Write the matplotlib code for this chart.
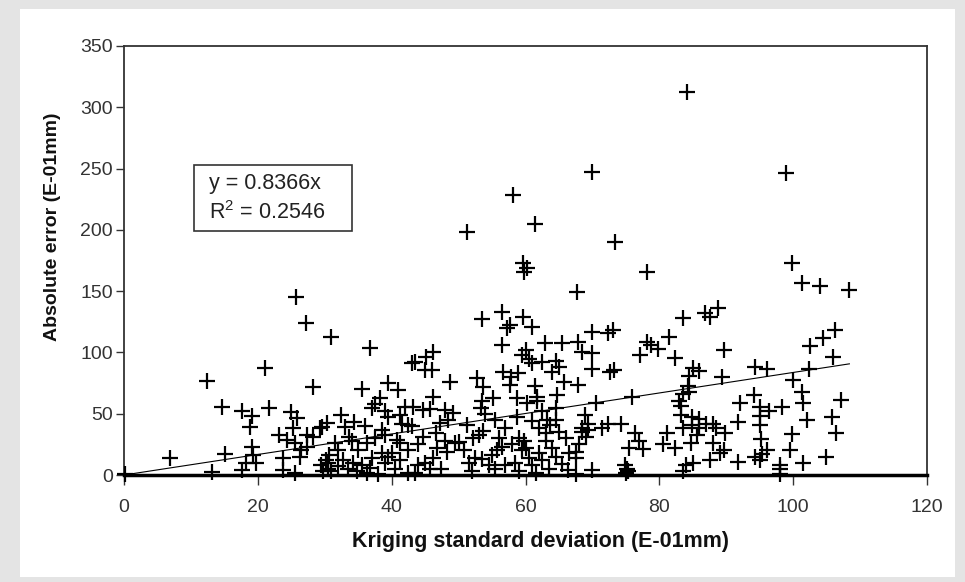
import matplotlib
matplotlib.use("Agg")
import matplotlib.pyplot as plt
from matplotlib.patches import Rectangle

plt.rcParams['font.family'] = ['Liberation Sans', 'DejaVu Sans']

# Kriging standard deviation (x) and absolute error (y)
pts_low = [(0.1,0.8),(6.8,14),(12.4,76.7),(13.1,2.7),(14.6,55.7),(15.1,16.9),(17.7,52.5),(17.7,4),(18.3,9.5),
           (18.8,39.4),(19.1,23.1),(19.2,48.4),(19.3,16.3),(19.8,10),(21,87),(21.7,54.4),(23.1,32.6),(23.8,13.6),
           (23.8,4),(24.3,28.6),(24.9,51.7),(25.3,38.1),(25.6,25.9),(25.6,1.4),(25.7,145.5),(25.8,46.2),(26.3,15),
           (26.5,20),(27.2,124.3),(27.3,32.6),(27.3,23.1),(28.3,71.5),(28.3,31.3),(29.3,38.1),(29.5,8),(29.8,3),
           (30.2,12),(30.5,5),(30.3,42.2),(31,112.8)]
pts_mid1 = [(29.6,39),(30.7,16),(31.5,25.9),(32,20),(32.5,49),(33,39.4),(33.6,31),(34.3,43.5),(35.5,69.9),
            (36.3,25.9),(36.8,103.4),(37,55),(37.5,58),(38.3,62.6),(38.5,36.7),(38.5,18),(39,52),(39.5,47),
            (39.5,74.8),(41,69.3),(41.3,49),(41.5,42),(42.5,40.6),(41.3,25.9),(40.8,28.6),(42,55.7),(43,91),
            (43.5,92),(43.2,55.7),(44.7,53),(44.7,31.3),(45,85.7),(45.2,96.5),(45.7,54),(46,85.7),(46.2,100.6),
            (46.2,63.9),(46.6,34),(47.2,42.2),(48,53),(48.4,45),(48.2,18.8),(48,28),(48.7,76),(49.2,50.3),
            (49.5,25.9),(50,27),(50.8,20),(51.2,40.8),(51.5,9.5),(51.2,198.6),
            (30.5,10),(31,3),(32,7),(32.8,12),(33.5,5),(34.2,10),(34.8,3),(35.5,8),(36.3,2),(36.8,6),(37,14),
            (38,1),(39,10),(39.5,15),(40.5,5),(41.2,12),(42.5,2),(43.5,2),(44,8),(45,10),(46.2,14),(45.7,5),
            (47.3,5),(46.7,22),(40,18),(42.5,20),(35,20),(34,28),(37.5,30),(36,40),(44,25),(43,40),(39,33)]
pts_mid2 = [(52,3),(52.5,14),(53.5,13),(54.5,8),(52.2,30),(53,33),(53.7,36),(53.5,127),(53.7,72),(52.7,78.9),
            (53.3,55),(54,50),(53.5,60),(55.2,62.6),(55,16),(55.7,20),(56.5,23),(55.5,5),(57,8),(56.5,133),
            (56.5,106),(56.7,84.3),(57.2,119.7),(57.7,122),(57.7,73.4),(57.9,80.2),(58.2,228.4),(58.7,62.6),
            (58.7,47.6),(58.9,83),(58,25),(59,30),(59.5,20),(59.8,28),(60,22),(58.5,10),(59,3),(59.7,129),
            (59.8,166),(59.7,172.7),(60.2,169),(59.5,98),(60.5,95),(60,102),(60.2,58.5),(60.9,121),(61.4,204.8),
            (61.4,73),(61.7,64),(61.7,60),(61,91),(62.4,92.4),(62.4,52),(62.9,107.4),(63.2,45),(63.6,41),(64,84),
            (64.5,93),(64.7,65.3),(64.6,55),(65.4,107.4),(65.7,76.1),(65,88),(67.7,149.6),(67.9,108.8),(67.9,73.4),
            (68.4,100.6),(68.4,35),(68.4,38),(68,25),(69,31),(67.6,14),(67.6,19),(67.5,1),(68.9,49),(69.3,37),
            (69.3,42),(69.9,117),(69.9,99.3),(69.9,86.2),(69.9,247.5),(70,4),
            (60.5,14),(61,8),(61.5,2),(62,18),(62.5,12),(63,28),(63.5,5),(64,22),(64.5,15),(65,35),(65.5,9),
            (66,30),(66.3,4),(62,38),(63,34),(61,44),(64.5,45),(66.5,18),(57,38),(56,30),(55.5,45)]
pts_high1 = [(70.6,58.5),(71.4,38),(72.4,42),(72.4,115.6),(72.6,84.3),(73.2,86),(73.1,118.3),(73.4,190.3),
             (74.2,42),(75.5,22),(75,2),(75.2,5),(74.8,8),(75.3,3),(75.9,63.9),(76.4,34),(77,28),(77.5,21),
             (77.1,97.9),(78.1,108.8),(78.1,165.9),(78.8,106),(79.8,103),(80.6,25),(81.1,34),(81.4,112.8),
             (82.4,22),(82.4,95.2),(83.2,49),(83,60),(83.5,66),(83.3,56),(83.5,38),(83.6,127.8),(84.2,312.7),
             (84.3,73),(84.5,68),(84.5,81),(85,87),(86,85),(84.9,47.6),(84.9,41),(84.7,26),(83.5,3),(84,8),
             (85,10),(85.7,33),(86,38),(86,46),(86.8,131.9),(87,42),(87.5,12),(87.6,129),(88,42),(88.5,38),
             (88,26),(88.8,136),(89,18),(89.6,102),(89.3,80.2),(89.8,34),(89.6,20)]
pts_high2 = [(91.8,43.5),(91.8,10.9),(92,58.5),(94.1,65.3),(94.3,88.4),(94.3,15),(95,55.7),(95.1,48),(95.1,41),
             (95.2,29),(95,12),(95.4,17),(96.1,86.2),(96.4,52),(96.1,20),(98.4,55.7),(98,1),(98,5),(98,8),
             (99,246),(99.6,20.4),(99.9,172.7),(99.9,33.5),(100,77.5),(101.3,156.4),(101.3,68),(101.5,58.5),
             (101.4,10),(102.1,44.9),(102.3,86.2),(102.5,105.2),(104,154.5),(104.5,111.5),(104.9,15),
             (105.8,47.6),(106,96),(106.3,118.3),(106.4,34),(107.1,61.2),(108.4,151)]

points = pts_low + pts_mid1 + pts_mid2 + pts_high1 + pts_high2
kriging_sd = [p[0] for p in points]
abs_error = [p[1] for p in points]

trend_slope = 0.8366
r_squared = 0.2546
x_ticks = [0, 20, 40, 60, 80, 100, 120]
y_ticks = [0, 50, 100, 150, 200, 250, 300, 350]

W, H = 965, 582
fig = plt.figure(figsize=(W/100, H/100), dpi=100, facecolor='#e4e4e4')
fig.add_artist(Rectangle((20/W, 5/H), 935/W, 568/H, transform=fig.transFigure,
                         facecolor='white', edgecolor='none', zorder=-10))
ax = fig.add_axes([124/W, 1-475/H, (927-124)/W, (475-46)/H])
ax.set_zorder(1)
ax.set_facecolor('white')

ax.plot(kriging_sd, abs_error, linestyle='none', marker='+', color='black',
        markersize=11, markeredgewidth=1.6, clip_on=False, zorder=3)

xmax = max(kriging_sd)
ax.plot([0, xmax], [0, trend_slope * xmax], color='black', linewidth=0.8, zorder=2)

ax.set_xlim(0, 120)
ax.set_ylim(0, 350)
ax.set_xticks(x_ticks)
ax.set_yticks(y_ticks)
ax.tick_params(axis='both', direction='out', length=6, width=1, color='#333333',
               labelsize=14, labelcolor='#333333', pad=2)
ax.tick_params(axis='x', length=7, pad=10)
for s in ['left', 'right', 'top']:
    ax.spines[s].set_color('#333333')
    ax.spines[s].set_linewidth(1.3)
ax.spines['bottom'].set_color('black')
ax.spines['bottom'].set_linewidth(2.5)

ax.set_xlabel('Kriging standard deviation (E-01mm)', fontsize=15.5, fontweight='bold', color='#111111')
ax.xaxis.set_label_coords((541-124)/803, -(542-475)/429)
ax.xaxis.label.set_va('center')
ax.set_ylabel('Absolute error (E-01mm)', fontsize=14, fontweight='bold', color='#111111')
ax.yaxis.set_label_coords((53-124)/803, (475-227)/429)
ax.yaxis.label.set_va('center')

# trend-line annotation box
ax.add_patch(Rectangle(((194-124)/803, (475-231)/429), 158/803, 66/429, transform=ax.transAxes,
                       facecolor='white', edgecolor='#333333', linewidth=1.2, zorder=4))
ax.text((209-124)/803, (475-184)/429, f'y = {trend_slope}x', transform=ax.transAxes,
        fontsize=15.5, va='center', ha='left', color='#222222', zorder=5)
ax.text((209-124)/803, (475-213)/429, r'R$^{\mathregular{2}}$' + f' = {r_squared}', transform=ax.transAxes,
        fontsize=15.5, va='center', ha='left', color='#222222', zorder=5)

fig.savefig('out.png', dpi=100, facecolor=fig.get_facecolor())
